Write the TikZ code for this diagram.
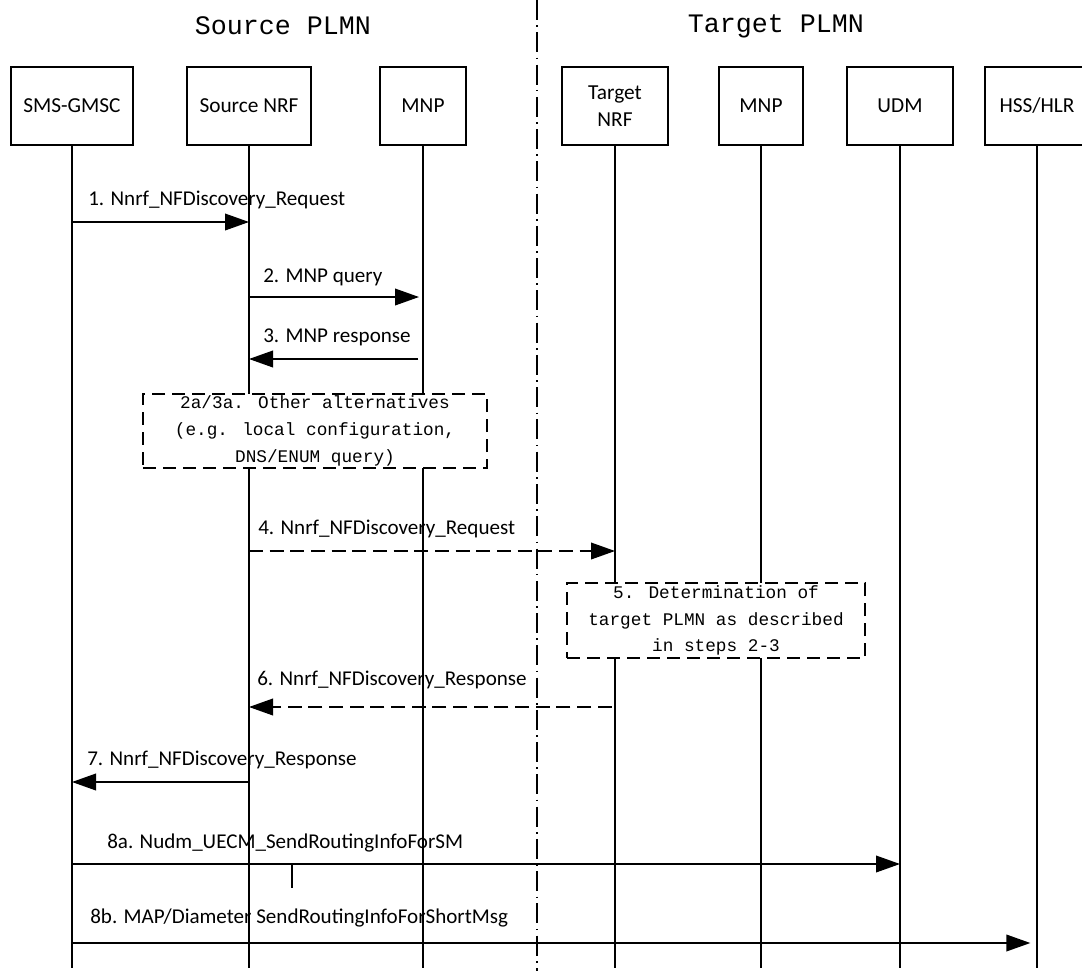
\documentclass[tikz,border=0pt]{standalone}
\usepackage{fontspec}
\setmainfont{Carlito}
\newfontfamily\simfont{Liberation Mono}
\usetikzlibrary{arrows.meta}

\tikzset{
  entity/.style={draw, line width=1pt, fill=white, minimum height=58.5pt, inner sep=0pt,
    align=center, font=\fontsize{16}{20}\selectfont},
  life/.style={line width=1.2pt},
  msg/.style={line width=1.2pt, -{Triangle[length=18pt,width=12.5pt]}},
  dmsg/.style={msg, dash pattern=on 10.5pt off 5pt},
  lbl/.style={inner sep=0pt, anchor=west, font=\fontsize{15.8}{18}\selectfont},
  notebox/.style={draw, line width=1.4pt, dash pattern=on 10pt off 5pt, fill=white, inner sep=0pt,
    align=center, font=\simfont\fontsize{13.3}{20}\selectfont},
  plmn/.style={inner sep=0pt, font=\simfont\fontsize{20}{24}\selectfont},
  border/.style={line width=1.1pt, dash pattern=on 15pt off 4pt on 1.2pt off 4pt},
}

\begin{document}
\begin{tikzpicture}[x=0.75pt,y=-0.75pt]
\useasboundingbox (0,0) rectangle (1082,971);

% PLMN split
\draw[border] (537,0) -- (537,971);
\node[plmn] (srcplmn) at (283,26) {Source PLMN};
\node[plmn] (tgtplmn) at (776,26) {Target PLMN};

% network functions
\node[entity, minimum width=91.5pt] (gmsc) at (72,106) {SMS-GMSC};
\node[entity, minimum width=93pt] (srcnrf) at (249,106) {Source NRF};
\node[entity, minimum width=64.5pt] (mnpa) at (423,106) {MNP};
\node[entity, minimum width=79.5pt] (tgtnrf) at (615,106) {Target\\NRF};
\node[entity, minimum width=63pt] (mnpb) at (761,106) {MNP};
\node[entity, minimum width=79.5pt] (udm) at (900,106) {UDM};
\node[entity, minimum width=78pt] (hss) at (1037,106) {HSS/HLR};

% lifelines
\coordinate (bot) at (0,968);
\foreach \n in {gmsc,srcnrf,mnpa,tgtnrf,mnpb,udm,hss}
  \draw[life] (\n.south) -- (\n.south |- bot);

% alternative / determination boxes
\node[notebox, minimum width=258pt, minimum height=55.5pt] (alt) at (315,431)
  {2a/3a. Other alternatives\\(e.g. local configuration,\\DNS/ENUM query)};
\node[notebox, minimum width=223.5pt, minimum height=56.25pt] (determ) at (716,620.5)
  {5. Determination of\\target PLMN as described\\in steps 2-3};

% messages
\coordinate (m1) at (0,222);
\coordinate (m2) at (0,297);
\coordinate (m3) at (0,359);
\coordinate (m4) at (0,551);
\coordinate (m6) at (0,707);
\coordinate (m7) at (0,782);
\coordinate (m8a) at (0,864);
\coordinate (m8b) at (0,943);

\draw[msg] (gmsc |- m1) -- (srcnrf |- m1);
\draw[msg, shorten >=3pt] (srcnrf |- m2) -- (mnpa |- m2);
\draw[msg, shorten <=3.5pt] (mnpa |- m3) -- (srcnrf |- m3);
\draw[dmsg] (srcnrf |- m4) -- (tgtnrf |- m4);
\draw[dmsg, shorten <=2.5pt] (tgtnrf |- m6) -- (srcnrf |- m6);
\draw[msg] (srcnrf |- m7) -- (gmsc |- m7);
\draw[msg] (gmsc |- m8a) -- (udm |- m8a);
\draw[msg, shorten >=5pt] (gmsc |- m8b) -- (hss |- m8b);
\draw[life] (292,864) -- (292,888);

\node[lbl] (l1) at (88,200) {1. Nnrf\_NFDiscovery\_Request};
\node[lbl] (l2) at (263,277) {2. MNP query};
\node[lbl] (l3) at (263,337) {3. MNP response};
\node[lbl] (l4) at (258,529) {4. Nnrf\_NFDiscovery\_Request};
\node[lbl] (l6) at (257,680) {6. Nnrf\_NFDiscovery\_Response};
\node[lbl] (l7) at (87,760) {7. Nnrf\_NFDiscovery\_Response};
\node[lbl] (l8a) at (107,843) {8a. Nudm\_UECM\_SendRoutingInfoForSM};
\node[lbl] (l8b) at (90,918) {8b. MAP/Diameter SendRoutingInfoForShortMsg};
\end{tikzpicture}
\end{document}
